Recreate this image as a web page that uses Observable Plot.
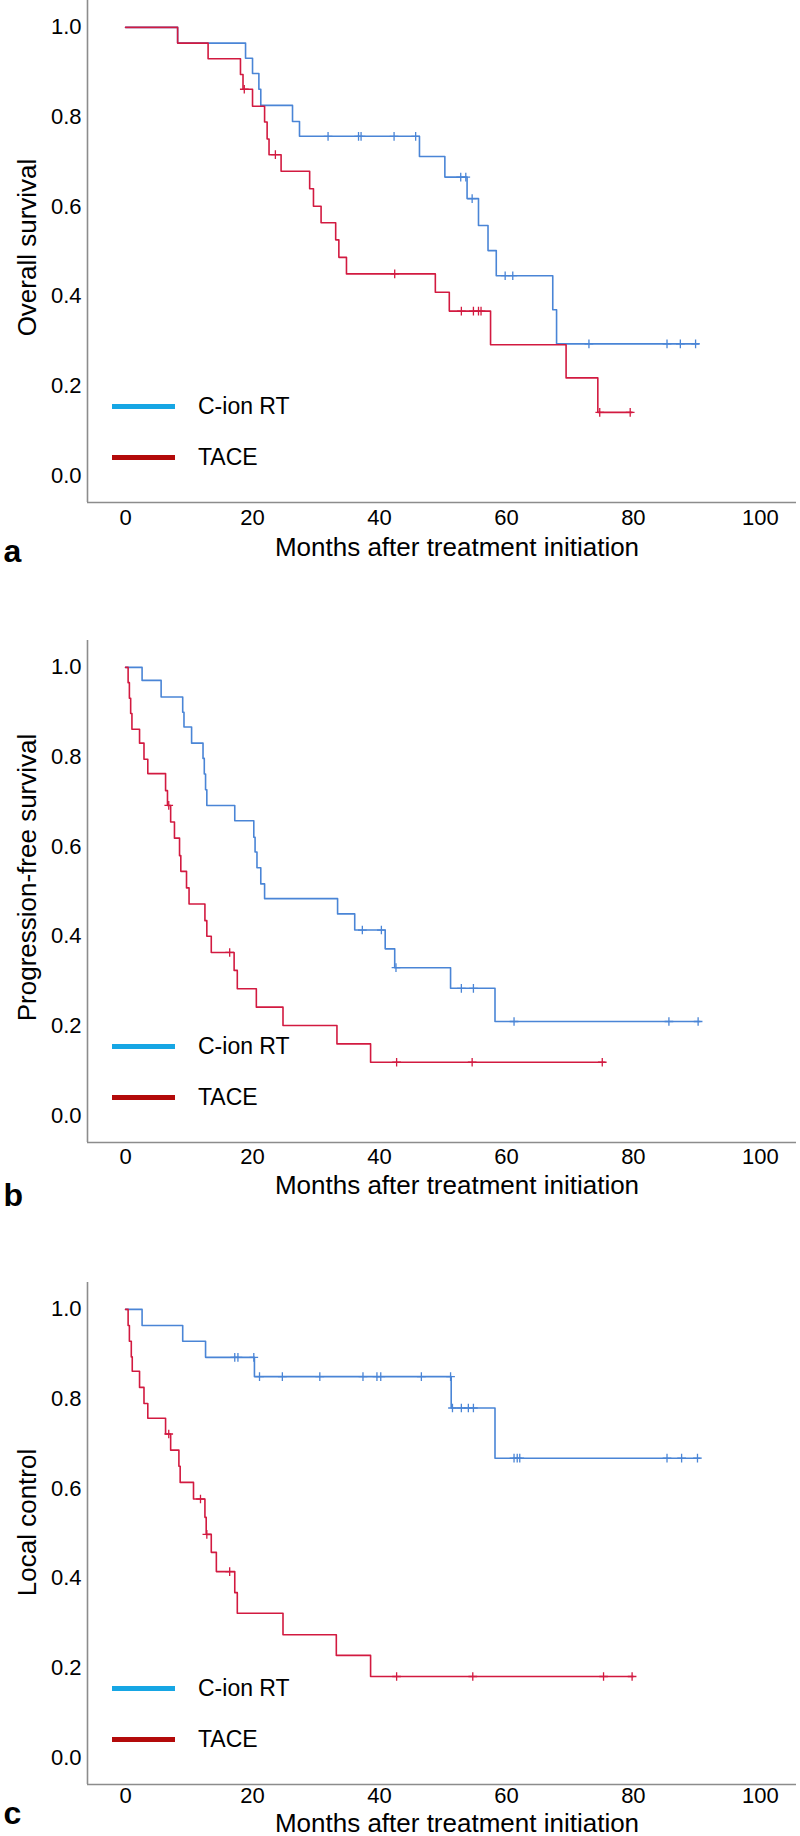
<!DOCTYPE html>
<html>
<head>
<meta charset="utf-8">
<script src="https://cdn.jsdelivr.net/npm/d3@7"></script>
<script src="https://cdn.jsdelivr.net/npm/@observablehq/plot@0.6"></script>
<style>
  body { margin: 0; background: #fff; }
  #wrap { position: relative; width: 800px; height: 1836px; overflow: hidden; font-family: "Liberation Sans", Arial, sans-serif; }
  .panel { position: absolute; left: 0; width: 800px; }
  .sw { position: absolute; left: 112px; width: 63px; height: 5px; }
  .lt { position: absolute; left: 198px; height: 26px; line-height: 26px; font-size: 23px; color: #000; white-space: nowrap; }
</style>
</head>
<body>
<div id="wrap"></div>
<script>
// ---------- data ----------
const groups = ["C-ion RT", "TACE"];
const lineColors = ["#4a85d6", "#d21a40"];
const legendColors = ["#16a6e4", "#b30a0a"];
const xTicks = [0, 20, 40, 60, 80, 100];
const yTicks = [0, 0.2, 0.4, 0.6, 0.8, 1.0];
const xLabel = "Months after treatment initiation";
const yLabels = ["Overall survival", "Progression-free survival", "Local control"];
const panelLetters = ["a", "b", "c"];

// Panel a: overall survival
const osRtTime = [0, 8.2, 18.9, 20.0, 21.0, 21.3, 26.3, 27.4, 46.3, 50.3, 53.8, 55.6, 57.1, 58.4, 67.3, 67.9, 90.3];
const osRtSurv = [1, 0.965, 0.931, 0.897, 0.862, 0.826, 0.790, 0.757, 0.712, 0.666, 0.618, 0.558, 0.502, 0.446, 0.370, 0.294, 0.294];
const osRtCens = [31.9, 36.7, 37.1, 42.3, 45.7, 52.8, 53.6, 54.6, 59.8, 61.0, 73.0, 85.3, 87.4, 89.8];
const osTaceTime = [0, 8.2, 13.0, 18.1, 18.5, 20.0, 21.9, 22.3, 22.6, 24.5, 29.0, 29.6, 30.8, 33.1, 33.6, 34.8, 48.8, 51.0, 57.5, 69.4, 74.4, 79.8];
const osTaceSurv = [1, 0.965, 0.930, 0.895, 0.862, 0.824, 0.789, 0.751, 0.716, 0.679, 0.640, 0.601, 0.564, 0.526, 0.487, 0.450, 0.409, 0.367, 0.292, 0.218, 0.141, 0.141];
const osTaceCens = [18.7, 23.6, 42.4, 52.9, 54.8, 55.6, 56.0, 74.7, 79.5];

// Panel b: progression-free survival
const pfsRtTime = [0, 2.6, 5.6, 9.0, 9.2, 10.4, 12.2, 12.4, 12.6, 12.8, 17.2, 20.2, 20.4, 20.7, 21.3, 21.9, 33.4, 36.1, 40.9, 42.4, 51.2, 58.2, 90.5];
const pfsRtSurv = [1, 0.971, 0.934, 0.900, 0.867, 0.831, 0.797, 0.762, 0.727, 0.692, 0.658, 0.621, 0.588, 0.553, 0.517, 0.484, 0.450, 0.414, 0.372, 0.330, 0.284, 0.210, 0.210];
const pfsRtCens = [37.3, 40.3, 42.6, 52.9, 54.8, 61.2, 85.6, 90.2];
const pfsTaceTime = [0, 0.4, 0.6, 0.8, 1.0, 2.2, 2.9, 3.5, 6.3, 6.6, 7.1, 7.7, 8.5, 8.7, 9.6, 10.0, 12.5, 12.8, 13.5, 17.1, 17.6, 20.6, 24.8, 33.3, 38.6, 75.5];
const pfsTaceSurv = [1, 0.966, 0.931, 0.897, 0.862, 0.831, 0.795, 0.763, 0.725, 0.692, 0.655, 0.619, 0.580, 0.545, 0.508, 0.472, 0.435, 0.400, 0.364, 0.324, 0.283, 0.242, 0.201, 0.160, 0.119, 0.119];
const pfsTaceCens = [6.8, 16.4, 42.7, 54.6, 75.1];

// Panel c: local control
const lcRtTime = [0, 2.6, 9.0, 12.6, 20.3, 51.3, 58.2, 90.5];
const lcRtSurv = [1, 0.964, 0.929, 0.893, 0.850, 0.780, 0.668, 0.668];
const lcRtCens = [17.2, 17.7, 20.2, 21.1, 24.7, 30.6, 37.4, 39.6, 40.2, 46.6, 51.2, 51.5, 52.9, 54.0, 54.8, 61.2, 61.7, 62.1, 85.3, 87.6, 90.1];
const lcTaceTime = [0, 0.4, 0.6, 0.9, 1.05, 2.2, 2.9, 3.5, 6.3, 7.1, 8.4, 8.6, 10.7, 12.5, 12.7, 13.5, 14.3, 17.2, 17.6, 24.8, 33.2, 38.6, 80.0];
const lcTaceSurv = [1, 0.964, 0.929, 0.894, 0.862, 0.826, 0.790, 0.757, 0.722, 0.686, 0.650, 0.614, 0.577, 0.536, 0.498, 0.458, 0.415, 0.368, 0.322, 0.274, 0.228, 0.181, 0.181];
const lcTaceCens = [6.8, 11.8, 12.8, 16.4, 42.7, 54.7, 75.3, 79.8];

// ---------- layout (per panel) ----------
const panels = [
  { top: -10, yLabel: yLabels[0], letter: panelLetters[0], yTitleDy: -4, xTitleBase: 53, letterBase: 59, tickPad: 7,
    series: [{time: osRtTime, surv: osRtSurv, cens: osRtCens}, {time: osTaceTime, surv: osTaceSurv, cens: osTaceCens}] },
  { top: 630, yLabel: yLabels[1], letter: panelLetters[1], yTitleDy: -14, xTitleBase: 51, letterBase: 63, tickPad: 6,
    series: [{time: pfsRtTime, surv: pfsRtSurv, cens: pfsRtCens}, {time: pfsTaceTime, surv: pfsTaceSurv, cens: pfsTaceCens}] },
  { top: 1272, yLabel: yLabels[2], letter: panelLetters[2], yTitleDy: -11, xTitleBase: 47, letterBase: 39, tickPad: 3,
    series: [{time: lcRtTime, surv: lcRtSurv, cens: lcRtCens}, {time: lcTaceTime, surv: lcTaceSurv, cens: lcTaceCens}] }
];

function survAt(time, surv, t) {
  let v = surv[0];
  for (let i = 0; i < time.length; i++) if (time[i] <= t) v = surv[i];
  return v;
}

const font = '"Liberation Sans", Arial, sans-serif';
const xDomain = [-6, 105.7];
const yDomain = [-0.06, 1.06];
const axisColor = "#8c8c8c";

function makePanel(cfg) {
  const rows = [];
  const cens = [];
  cfg.series.forEach((s, k) => {
    s.time.forEach((t, i) => rows.push({group: groups[k], t, s: s.surv[i]}));
    s.cens.forEach(t => cens.push({group: groups[k], t, s: survAt(s.time, s.surv, t)}));
  });
  return Plot.plot({
    width: 800, height: 582,
    marginTop: 10, marginBottom: 70, marginLeft: 87, marginRight: 4,
    style: {fontFamily: font, fontSize: "22px", color: "#000", background: "transparent", overflow: "visible"},
    x: {domain: xDomain, ticks: xTicks, tickSize: 0, tickPadding: cfg.tickPad, label: null},
    y: {domain: yDomain, ticks: yTicks, tickSize: 0, tickPadding: 6, tickFormat: d3.format(".1f"), label: null},
    color: {domain: groups, range: lineColors},
    marks: [
      Plot.ruleX([xDomain[0]], {stroke: axisColor, strokeWidth: 1.6}),
      Plot.ruleY([yDomain[0]], {stroke: axisColor, strokeWidth: 1.6}),
      Plot.line(rows, {x: "t", y: "s", z: "group", stroke: "group", curve: "step-after", strokeWidth: 1.6}),
      Plot.dot(cens, {x: "t", y: "s", stroke: "group", symbol: "plus", r: 2.9, strokeWidth: 1.3}),
      Plot.text([xLabel], {text: d => d, frameAnchor: "bottom", textAnchor: "middle", lineAnchor: "bottom", dx: 15, dy: cfg.xTitleBase, fontSize: 26, fill: "#000"}),
      Plot.text([cfg.yLabel], {text: d => d, frameAnchor: "left", textAnchor: "middle", lineAnchor: "middle", rotate: -90, dx: -60, dy: cfg.yTitleDy, fontSize: 26, fill: "#000"}),
      Plot.text([cfg.letter], {text: d => d, frameAnchor: "bottom-left", textAnchor: "start", lineAnchor: "bottom", dx: -84, dy: cfg.letterBase, fontSize: 32, fontWeight: "bold", fill: "#000"})
    ]
  });
}

const wrap = document.getElementById("wrap");
const legendY = [416, 467];
panels.forEach(cfg => {
  const div = document.createElement("div");
  div.className = "panel";
  div.style.top = cfg.top + "px";
  div.appendChild(makePanel(cfg));
  groups.forEach((g, k) => {
    const sw = document.createElement("div");
    sw.className = "sw";
    sw.style.top = (legendY[k] - 2.5) + "px";
    sw.style.background = legendColors[k];
    div.appendChild(sw);
    const lt = document.createElement("div");
    lt.className = "lt";
    lt.style.top = (legendY[k] - 13) + "px";
    lt.textContent = g;
    div.appendChild(lt);
  });
  wrap.appendChild(div);
});
</script>
</body>
</html>
